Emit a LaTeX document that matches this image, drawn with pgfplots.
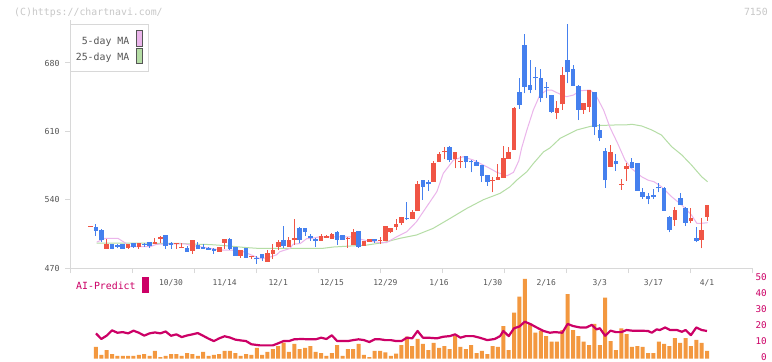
\documentclass[border=0pt]{standalone}
\usepackage{pgfplots}
\pgfplotsset{compat=1.18}
\usepackage{pgfplotstable}
\usepackage{fontspec}
\setmainfont{DejaVu Sans Mono}
\definecolor{cred}{HTML}{F05545}
\definecolor{cblue}{HTML}{4580EE}
\definecolor{cpink}{HTML}{EBB5EB}
\definecolor{cgreen}{HTML}{B5DDA5}
\definecolor{corange}{HTML}{F3983F}
\definecolor{cmag}{HTML}{CC0066}
\definecolor{cgrid}{HTML}{D8D8D8}
\definecolor{clab}{HTML}{555555}
\definecolor{cwm}{HTML}{C8C8C8}

% up (red) candles
\pgfplotstableread{
k O H L C
0 512.3 513 512.3 513
3 489.8 500 489.8 494.6
7 491 494.6 489.8 494.6
9 491.5 495.6 489.8 495.6
12 494.6 501 494.6 496.6
13 499.7 503 496 501.7
16 494.6 495.6 489.8 495.3
17 490.8 495.6 490.8 491.5
19 487.8 498.7 484.5 498.7
24 486.7 491.8 486.7 491.8
25 496 500 489.5 500
28 482.5 488.3 480.3 488.3
30 481 482.6 479 481.7
33 476.5 488 476.5 485.3
34 484.3 494.5 479 488.1
35 491.8 499 488 497
37 491.3 502 491.3 499
38 499 520 494 501
43 498 504.7 498 503.1
44 501 503.5 501 503.1
45 500 506 500 505
48 499.5 501.5 491 501
49 493.5 509.6 493.5 507.2
51 492.9 497.7 492.9 497.7
52 497 499.7 497 499.7
54 498 501.5 495 498.7
55 497.7 513 497.7 513
56 506.6 511.3 505.6 511.3
57 512.3 520 508.9 515
58 516.4 522 514 522
60 520.3 529 520.3 527.7
61 528.4 559 528.4 556
64 558.4 580 558.4 578
65 578.9 588.5 578.9 586.8
66 589 593.6 581.3 589.7
68 581.3 589.1 572 589.1
69 579 585 572 579.7
75 559.2 563.6 547.5 559.9
76 560.2 576.5 560.2 563
77 562.5 595 562.5 583
78 581.7 593.5 581.7 589
79 591 635 591 634.2
87 629.1 641.5 622.3 634.2
88 637.7 676 631.9 667.7
92 631.9 638.7 628 638.7
93 635.2 652.3 629.5 652.3
97 573.8 596 573.8 589.2
99 555 561 550 555.7
100 571.1 577.9 559 574.5
109 519.2 532.8 513.3 529.4
112 518.5 531.8 515.8 521.5
114 498.7 520.9 490 508.9
115 522.5 534.5 518.5 534.5
}\upc

% down (blue) candles
\pgfplotstableread{
k O H L C
1 512 515 503 508.2
2 508.9 509.5 496.3 499
4 494.6 495 489 489.8
5 493.5 494.5 490 491.8
6 494.6 495 489.8 489.8
8 495.6 496 490.5 491.5
10 494.6 496 492 493.5
11 496.6 497 490.8 492.5
14 503.8 504 489.8 492.9
15 495.6 496.6 489.8 494
18 490.8 492.5 486.7 486.7
20 493.5 496.6 489.8 489.8
21 491.5 494.6 489.8 489.8
22 490.8 491.5 488.7 488.7
23 489.8 490.5 484.5 487.8
26 500 500.5 488.5 489.5
27 491.8 492 482.3 482.3
29 490.8 491 480.5 480.5
31 480.5 482.3 474.3 478.9
32 484.3 484.5 477 479.9
36 499 513 490 492.6
39 511.3 511.5 495.5 498.6
40 510.6 511 503 507
41 502.4 505 498 500.4
42 500 500.5 492 498
46 507.2 507.5 494 499
47 503.8 504 498.7 498.7
50 507.9 508 490.9 491.8
53 499.7 500 496 497.7
59 521.6 538 519 520
62 560 560.5 539.7 553.3
63 558 560 548.7 555.7
67 594.4 594.5 578.5 580.6
70 584.4 584.5 572.8 578.9
71 580 580.5 568 578.3
72 579 580.6 574.8 574.8
73 575.5 575.5 558.4 564.6
74 565.3 565.5 554.3 558.4
80 650.3 665 632.9 637
81 698.4 709.7 649 655.7
82 657.5 683 649 652.3
83 666 676 652.3 664.3
84 665 674 639.7 644.5
85 655.7 661 644.5 654
86 647.2 647.5 629 630.1
89 683 720 659.2 670.5
90 673.9 678 656.8 656.8
91 656.8 657 621.6 631.9
94 650 650.5 606.2 614.7
95 611.4 617 600 602.9
96 589.9 592.6 552.3 560.1
98 579.6 586.5 569.7 576.2
101 578.6 582.4 572.1 572.1
102 577.9 578 549.2 549.2
103 547.9 551.5 541 543
104 544.1 546.5 535.3 540.4
105 544.8 551 541 542.4
106 553.3 557.4 547.5 551.6
107 552.3 552.5 528.7 528.7
108 522.6 522.8 506.5 508.9
110 542 546.5 534.5 534.5
111 531.8 532 513.5 516.4
113 500.4 512.3 496.5 497.7
}\dnc

\pgfplotstableread{
k v
1 7.2
2 2.2
3 5.3
4 2.8
5 1.6
6 1.6
7 1.6
8 1.6
9 2.2
10 2.8
11 1.6
12 4.7
13 0.9
14 1.6
15 2.8
16 2.8
17 1.6
18 3.4
19 2.8
20 1.6
21 4.1
22 1.6
23 2.2
24 2.8
25 4.7
26 4.7
27 3.4
28 1.6
29 2.8
30 2.2
31 6.6
32 2.2
33 4.1
34 5.9
35 7.8
36 9.9
37 4.1
38 9.1
39 5.9
40 6.6
41 7.8
42 4.1
43 3.4
44 1.6
45 3.4
46 8.4
47 1.6
48 5.9
49 5.9
50 9.1
51 2.2
52 0.9
53 4.7
54 4.7
55 3.9
56 1.6
57 3.1
58 8.4
59 13.6
60 7.8
61 12.2
62 9.1
63 5.3
64 9.8
65 6.6
66 7.8
67 5.9
68 14
69 7.2
70 5.9
71 8.4
72 3.4
73 4.7
74 2.8
75 7.8
76 7.2
77 20.3
78 5.3
79 28.6
80 38.6
81 49.7
82 22
83 16.1
84 17.2
85 14
86 10.5
87 10.5
88 17.8
89 40.3
90 17.8
91 14
92 10.5
93 8.4
94 21.6
95 8.4
96 38
97 10.9
98 5.3
99 18.9
100 15.3
101 7.2
102 7.8
103 7.2
104 3.4
105 3.4
106 10.5
107 9.1
108 7.8
109 12.8
110 9.8
111 12.8
112 7.8
113 11.6
114 9.8
115 4.7
}\vol

\pgfplotsset{
  candlepart/.style 2 args={draw=none, mark=none, forget plot,
    error bars/.cd, y dir=plus, y explicit, error mark=none,
    error bar style={draw=#1, line width=#2, solid}},
}

\begin{document}
\begin{tikzpicture}[x=1bp,y=1bp]
\useasboundingbox (0,0) rectangle (772,361);
\fill[white] (0,0) rectangle (772,361);

% main price axis
\begin{axis}[at={(70bp,93bp)}, anchor=south west, scale only axis,
  width=682bp, height=248bp,
  xmin=-3.843, xmax=123.396, ymin=470, ymax=724.05,
  axis x line=bottom, axis y line=left,
  axis line style={draw=cgrid, line width=1bp, -},
  xtick={-3.843,7.724,19.291,30.858,42.425,53.993,65.560,77.127,88.694,100.261,111.828,123.396},
  xticklabels={},
  ytick={470,540,610,680}, yticklabels={470,540,610,680},
  tick style={draw=cgrid, line width=1bp},
  tick align=outside, major tick length=5bp,
  yticklabel style={font=\fontsize{8.3}{9}\selectfont, text=clab, xshift=-2bp},
  extra x ticks={15,25,35,45,55,65,75,85,95,105,115},
  extra x tick labels={10/30,11/14,12/1,12/15,12/29,1/16,1/30,2/16,3/3,3/17,4/1},
  extra x tick style={major tick length=0pt, tick style={draw=none},
    xticklabel style={font=\fontsize{8}{9}\selectfont, text=clab, anchor=base, yshift=-17bp}},
]
% moving averages
\addplot[cgreen, line width=1bp, mark=none] coordinates {
(1.14,495.5) (16.1,495.3) (19.1,494.5) (22.3,494) (23.6,493.5) (26,492.5) (28.4,491.2) (31,490.2)
(40.9,490.2) (43.4,490.2) (45.3,491.5) (51.5,493.5) (54.6,496) (57.7,500.4) (60.8,503.8) (63.9,510.6)
(67.1,520.9) (70.2,531.1) (73.3,540) (76.4,546.5) (78.2,553) (79.5,560) (81.4,568.7) (82.6,577)
(84.5,589) (85.7,593) (87.6,602.9) (90.7,611.4) (93.2,615) (94.1,615.8) (97.8,616.5) (99.7,616.5)
(101,617.2) (102.8,615.5) (104.7,611.4) (106.5,606.2) (108.4,594.3) (110.3,585.8) (112.1,575.5)
(114,563.5) (115.1,558.4)};
\addplot[cpink, line width=1bp, mark=none] coordinates {
(1.14,496.5) (2.7,500.4) (5.1,500.4) (6.4,495.9) (7.35,491.8) (9.6,491.8) (11.1,491.8) (12.3,494.3)
(17.6,494.8) (18.5,493.5) (20.4,491.8) (22.3,490.2) (24.1,488.5) (27.9,488) (29.7,484) (31,481)
(31.6,479.5) (33.1,480.5) (34.7,483.5) (35.3,486.7) (37.2,490) (37.8,494.5) (39.1,495) (40.3,500)
(40.9,500) (42.8,502) (45.2,502) (48.4,502) (51.5,498) (54,496) (55.2,496) (57.1,502) (59,507.2)
(60.8,517.4) (62.7,532.8) (64.6,548.2) (65.8,567) (67.7,580.6) (69.5,584) (71.4,580.6) (73.9,573.8)
(75.8,568) (77.7,564.5) (78.9,568) (79.9,580) (80.4,592.6) (81.4,611.4) (82.6,631.9) (83.8,647)
(85.1,652.3) (86,652.3) (87.9,647.2) (88.8,645.5) (90.1,647.2) (91.3,651.6) (93.2,652.3) (94.4,645.5)
(95.7,631.9) (96.9,614) (98.3,598) (99.7,580.6) (100.9,572) (102.8,563.5) (104,560) (105.1,558.4)
(106.5,553.3) (108.4,543) (110.3,534.5) (112.1,524.3) (113.1,515.8) (114,515.8) (115.1,516.4)};
% wicks
\addplot[candlepart={cred}{1bp}]
  table[x=k, y=L, y error expr=\thisrow{H}-\thisrow{L}] {\upc};
\addplot[candlepart={cblue}{1bp}]
  table[x=k, y=L, y error expr=\thisrow{H}-\thisrow{L}] {\dnc};
% bodies
\addplot[candlepart={cred}{4.6bp}]
  table[x=k, y=O, y error expr={max(\thisrow{C}-\thisrow{O},0.8)}] {\upc};
\addplot[candlepart={cblue}{4.6bp}]
  table[x=k, y=C, y error expr={max(\thisrow{O}-\thisrow{C},0.8)}] {\dnc};
\end{axis}

% lower AI-Predict / volume axis
\begin{axis}[at={(70bp,2.5bp)}, anchor=south west, scale only axis,
  width=682bp, height=80bp,
  xmin=-3.843, xmax=123.396, ymin=0, ymax=50,
  axis x line=none, axis y line*=right,
  y axis line style={draw=none},
  xtick=\empty,
  ytick={0,10,20,30,40,50},
  yticklabels={0,10,20,30,40,50},
  major tick length=0pt, tick style={draw=none},
  yticklabel style={font=\fontsize{9.3}{10}\selectfont, text=cmag, anchor=east, inner sep=0pt, xshift=15bp, yshift=1.8bp},
]
\addplot[ybar, bar width=4bp, fill=corange, draw=none] table[x=k, y=v] {\vol};
\addplot[cmag, line width=2.2bp, line join=round, mark=none] coordinates {
(1,15.7) (2,12.2) (3,14.3) (4,17.6) (5,16.1) (6,16.5) (7,15.7) (8,17.4) (9,16.1) (10,14.3)
(11,15.7) (12,16.3) (13,15.7) (14,16.9) (15,14.2) (16,15.1) (17,13.4) (18,14.4) (19,15.1) (20,15.9)
(21,14.2) (22,12.4) (23,10.9) (24,12.6) (25,13.9) (26,13.1) (27,11.8) (28,11.3) (29,10.9) (30,8.9)
(31.6,8.2) (33,8.2) (34,8.2) (35,9.5) (36,10.9) (37,10.9) (38,12) (39.4,12.2) (40.6,12) (42,12)
(43,13) (44,12.2) (45,14.5) (46,10.9) (47,10.9) (48,10.9) (49,11.5) (50,12) (51,11.5) (52,10.3)
(53,12) (54,12) (55,11.5) (56,11.5) (57,10.9) (58,10.9) (59,13) (60,12.6) (61,17.2) (62,13)
(63,13) (64.6,12.6) (65.8,13.6) (67,14) (68,15.1) (69,13) (70,14) (71.4,14) (72.6,13) (74,11.5)
(75.4,12.2) (76.4,14) (77,17.2) (78,14) (79,18.9) (80,20) (81,23) (82,21.6) (83.5,18.9) (84.5,17.2)
(85.7,16.1) (86.6,16.5) (88,16.1) (88.5,18.9) (89,21.6) (90,20.3) (91.3,19.4) (92.5,19.4) (93.5,21)
(94.4,18.2) (95,18.9) (96,14.2) (97,17.4) (98,16.5) (99,16.5) (100,17.8) (101,17.4) (102.5,17.4)
(104,17.2) (104.7,16.1) (105.6,18.2) (106.2,17.8) (107.2,19.4) (108.1,17.8) (109.4,17.8) (110.3,16.7)
(111,17.8) (112,14.6) (113,19.4) (114,17.8) (115,17.2)};
\end{axis}

% legend box
\draw[cgrid, fill=white, line width=1bp] (70,289.3) rectangle (148.3,336.7);
\draw[clab, fill=cpink, line width=1bp] (136.5,314.5) rectangle (142.5,330);
\draw[clab, fill=cgreen, line width=1bp] (136.5,297.8) rectangle (142.5,312.5);
\node[anchor=base east, inner sep=0pt, text=clab, font=\fontsize{9.9}{11}\selectfont] at (129.5,317) {5-day MA};
\node[anchor=base east, inner sep=0pt, text=clab, font=\fontsize{9.9}{11}\selectfont] at (129.5,300.5) {25-day MA};

% watermark and code
\node[anchor=base west, inner sep=0pt, text=cwm, font=\fontsize{9.9}{11}\selectfont] at (14,346) {(C)https://chartnavi.com/};
\node[anchor=base east, inner sep=0pt, text=cwm, font=\fontsize{9.9}{11}\selectfont] at (768,346) {7150};

% AI-Predict label
\node[anchor=base west, inner sep=0pt, text=cmag, font=\fontsize{9.9}{11}\selectfont] at (76,71.5) {AI-Predict};
\fill[cmag] (142.3,68.3) rectangle (149,83.7);
\end{tikzpicture}
\end{document}
